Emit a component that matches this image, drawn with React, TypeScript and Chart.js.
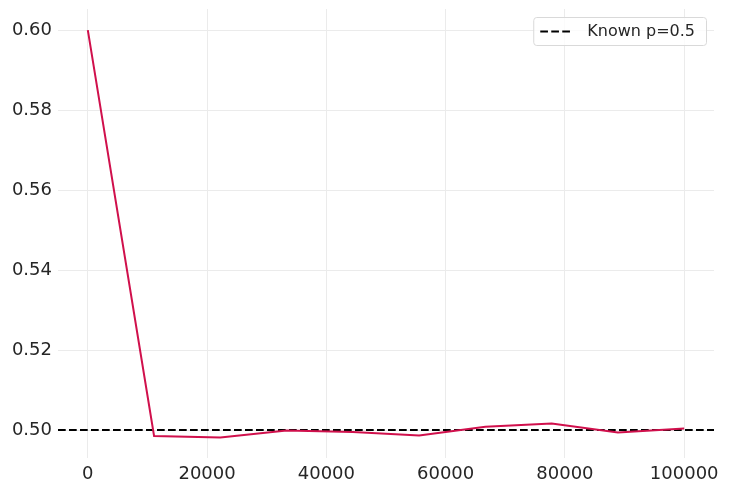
import React, { useEffect, useRef } from "react";
import { Chart, registerables } from "chart.js";

Chart.register(...registerables);

const xValues = [0, 11111, 22222, 33333, 44444, 55556, 66667, 77778, 88889, 100000];
const estimates = [0.6, 0.4985, 0.4981, 0.4999, 0.4995, 0.4986, 0.5008, 0.5016, 0.4994, 0.5004];
const knownP = 0.5;
const legendLabel = "Known p=0.5";
const yTicks = [0.5, 0.52, 0.54, 0.56, 0.58, 0.6];
const xTicks = [0, 20000, 40000, 60000, 80000, 100000];

const FONT = "'DejaVu Sans', sans-serif";
const TEXT = "#262626";
const GRID = "#ebebeb";
const RED = "#d0104c";

export default function App() {
  const ref = useRef<HTMLCanvasElement | null>(null);

  useEffect(() => {
    document.body.style.margin = "0";
    const canvas = ref.current;
    if (!canvas) return;

    const refLine = {
      id: "refLine",
      beforeDatasetsDraw(chart: any) {
        const { ctx, chartArea } = chart;
        const y = chart.scales.y.getPixelForValue(knownP);
        ctx.save();
        ctx.strokeStyle = "#000";
        ctx.lineWidth = 2;
        ctx.setLineDash([7.7, 3.3]);
        ctx.beginPath();
        ctx.moveTo(chartArea.left, y);
        ctx.lineTo(chartArea.right, y);
        ctx.stroke();
        ctx.restore();
      },
      afterDraw(chart: any) {
        const { ctx, chartArea } = chart;
        ctx.save();
        ctx.font = `16px ${FONT}`;
        const tw = ctx.measureText(legendLabel).width;
        const w = 10 + 30 + 16 + tw + 9;
        const h = 28;
        const x = chartArea.right - 8 - w;
        const y = chartArea.top + 8;
        ctx.fillStyle = "rgba(255,255,255,0.8)";
        ctx.strokeStyle = "#d9d9d9";
        ctx.lineWidth = 1;
        ctx.beginPath();
        (ctx as any).roundRect(x + 0.5, y + 0.5, w, h, 3);
        ctx.fill();
        ctx.stroke();
        const cy = y + h / 2 + 0.5;
        ctx.strokeStyle = "#000";
        ctx.lineWidth = 2;
        ctx.setLineDash([7.7, 3.3]);
        ctx.beginPath();
        ctx.moveTo(x + 7, cy);
        ctx.lineTo(x + 37, cy);
        ctx.stroke();
        ctx.setLineDash([]);
        ctx.fillStyle = TEXT;
        ctx.textBaseline = "middle";
        ctx.textAlign = "left";
        ctx.fillText(legendLabel, x + 54, cy);
        ctx.restore();
      },
    };

    const chart = new Chart(canvas, {
      type: "line",
      data: {
        datasets: [
          {
            label: "estimate",
            data: xValues.map((x, i) => ({ x, y: estimates[i] })),
            borderColor: RED,
            borderWidth: 2,
            pointRadius: 0,
            tension: 0,
            fill: false,
          },
        ],
      },
      options: {
        animation: false,
        responsive: false,
        maintainAspectRatio: false,
        layout: { padding: { left: 0, right: 17, top: 9, bottom: 0 } },
        plugins: { legend: { display: false }, tooltip: { enabled: false } },
        scales: {
          x: {
            type: "linear",
            min: -5000,
            max: 105000,
            afterBuildTicks: (s: any) => {
              s.ticks = xTicks.map((v) => ({ value: v }));
            },
            afterFit: (s: any) => {
              s.height = 33;
              s.paddingLeft = 0;
              s.paddingRight = 0;
            },
            ticks: {
              color: TEXT,
              font: { family: FONT, size: 18 },
              padding: 6,
              maxRotation: 0,
              autoSkip: false,
              callback: (v: any) => String(v),
            },
            grid: { color: GRID, lineWidth: 1, drawTicks: false },
            border: { display: false },
          },
          y: {
            type: "linear",
            min: 0.493,
            max: 0.6053,
            afterBuildTicks: (s: any) => {
              s.ticks = yTicks.map((v) => ({ value: v }));
            },
            afterFit: (s: any) => {
              s.width = 58;
              s.paddingTop = 0;
              s.paddingBottom = 0;
            },
            ticks: {
              color: TEXT,
              font: { family: FONT, size: 18 },
              padding: 6,
              autoSkip: false,
              callback: (v: any) => Number(v).toFixed(2),
            },
            grid: { color: GRID, lineWidth: 1, drawTicks: false },
            border: { display: false },
          },
        },
      },
      plugins: [refLine],
    });

    return () => chart.destroy();
  }, []);

  return (
    <div style={{ width: 731, height: 491 }}>
      <canvas ref={ref} width={731} height={491} style={{ display: "block" }} />
    </div>
  );
}
